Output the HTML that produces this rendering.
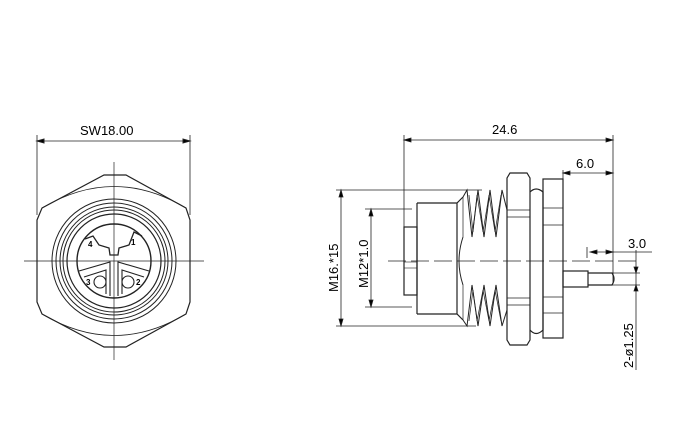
<!DOCTYPE html>
<html><head><style>body{margin:0;background:#fff}svg{display:block}</style></head><body>
<svg width="680" height="440" viewBox="0 0 680 440" xmlns="http://www.w3.org/2000/svg" font-family="Liberation Sans, sans-serif" fill="none" stroke="#000" stroke-width="1">
<!-- LEFT VIEW -->
<g stroke="#222">
<line x1="37" y1="135" x2="37" y2="215" stroke-width="0.8"/>
<line x1="190" y1="135" x2="190" y2="215" stroke-width="0.8"/>
<line x1="37" y1="141" x2="190" y2="141" stroke-width="0.8"/>
<path d="M37 141 l7 -2 v4z M190 141 l-7 -2 v4z" fill="#000"/>
<path d="M104 175 L126 175 L186 208 L190 220 L190 302 L186 314 L126 347 L104 347 L42 314 L37 302 L37 220 L42 208 Z" stroke-width="1.2"/>
<path d="M42 208 Q114 165 186 208 M42 314 Q114 357 186 314" stroke-width="0.8"/>
<circle cx="114" cy="261" r="62" stroke-width="1"/>
<circle cx="114" cy="261" r="58" stroke-width="1"/>
<circle cx="114" cy="261" r="54" stroke-width="1"/>
<circle cx="114" cy="261" r="51" stroke-width="1"/>
<circle cx="114" cy="261" r="47" stroke-width="1.2"/>
<circle cx="114" cy="261" r="37" stroke-width="1.4"/>
<line x1="24" y1="261" x2="204" y2="261" stroke-width="0.7"/>
<line x1="114" y1="162" x2="114" y2="360" stroke-width="0.7"/>
<path d="M85 239 L93 236 L99 245 L109 248 L110 255 L118 255 L119 248 L129 245 L134 232 L142 236" stroke-width="1.3"/>
<path d="M79 271 L110 262 L110 296 M84 277 L106 270 L106 294 M149 271 L118 262 L118 296 M144 277 L122 270 L122 294" stroke-width="1.1"/>
<circle cx="100" cy="282" r="6" stroke-width="1.1"/>
<circle cx="128" cy="282" r="6" stroke-width="1.1"/>
</g>
<g fill="#000" stroke="none" font-size="8" font-weight="bold">
<text x="88" y="247">4</text><text x="131" y="245">1</text>
<text x="86" y="285">3</text><text x="136" y="285">2</text>
</g>
<text x="80" y="135" font-size="13" fill="#000" stroke="none">SW18.00</text>

<!-- RIGHT VIEW -->
<g stroke="#222" stroke-width="0.8">
<line x1="404" y1="135" x2="404" y2="227"/>
<line x1="613" y1="135" x2="613" y2="283"/>
<line x1="404" y1="140" x2="613" y2="140"/>
<path d="M404 140 l7 -2 v4z M613 140 l-7 -2 v4z" fill="#000"/>
<line x1="563" y1="170" x2="563" y2="180"/>
<line x1="563" y1="173" x2="613" y2="173"/>
<path d="M563 173 l7 -2 v4z M613 173 l-7 -2 v4z" fill="#000"/>
<line x1="336" y1="190" x2="482" y2="190"/>
<line x1="336" y1="326" x2="476" y2="326"/>
<line x1="341" y1="190" x2="341" y2="326"/>
<path d="M341 190 l-2 7 h4z M341 326 l-2 -7 h4z" fill="#000"/>
<line x1="365" y1="209" x2="412" y2="209"/>
<line x1="365" y1="307" x2="412" y2="307"/>
<line x1="371" y1="209" x2="371" y2="307"/>
<path d="M371 209 l-2 7 h4z M371 307 l-2 -7 h4z" fill="#000"/>
<line x1="587" y1="247" x2="587" y2="258"/>
<line x1="590" y1="252" x2="652" y2="252"/>
<path d="M590 252 l7 -2 v4z M613 252 l-7 -2 v4z" fill="#000"/>
<line x1="636" y1="250" x2="636" y2="370"/>
<line x1="600" y1="273" x2="640" y2="273"/>
<line x1="600" y1="285" x2="640" y2="285"/>
<path d="M636 273 l-2 -6 h4z M636 285 l-2 6 h4z" fill="#000"/>
<line x1="388" y1="261" x2="640" y2="261" stroke-dasharray="18,5"/>
</g>
<g stroke="#222" stroke-width="1.2">
<rect x="404" y="227" width="13" height="68"/>
<line x1="404" y1="262" x2="417" y2="262" stroke-width="0.6"/>
<line x1="404" y1="268" x2="417" y2="268" stroke-width="0.6"/>
<path d="M417 203 L457 203 L463 197 M457 203 L457 314 M417 314 L457 314 L463 320"/>
<line x1="417" y1="203" x2="417" y2="314"/>
<path d="M463 237 Q455 261 463 285" stroke-width="1"/>
<path d="M463 197 L467 190 L472 237 L478 190 L484 237 L490 190 L496 237 L502 190 L507 210" stroke-width="1"/>
<path d="M463 197 L463 237 M469 195 L473 232 L477 195 L483 232 L489 195 L495 232 L501 195" stroke-width="0.7"/>
<path d="M463 320 L467 326 L472 285 L478 326 L484 285 L490 326 L496 285 L502 326 L507 310" stroke-width="1"/>
<path d="M463 320 L463 285 M469 321 L473 290 L477 321 L483 290 L489 321 L495 290 L501 321" stroke-width="0.7"/>
<path d="M510 173 L527 173 L530 178 L530 340 L527 345 L510 345 L507 340 L507 178 Z"/>
<line x1="507" y1="210" x2="530" y2="210" stroke-width="0.8"/>
<line x1="507" y1="217" x2="530" y2="217" stroke-width="0.8"/>
<line x1="507" y1="298" x2="530" y2="298" stroke-width="0.8"/>
<line x1="507" y1="305" x2="530" y2="305" stroke-width="0.8"/>
<path d="M530 192 Q536 186 543 192 L543 330 Q536 337 530 330"/>
<rect x="543" y="179" width="20" height="159"/>
<line x1="543" y1="208" x2="563" y2="208" stroke-width="0.8"/>
<line x1="543" y1="225" x2="563" y2="225" stroke-width="0.8"/>
<line x1="543" y1="297" x2="563" y2="297" stroke-width="0.8"/>
<line x1="543" y1="313" x2="563" y2="313" stroke-width="0.8"/>
<rect x="563" y="271" width="25" height="16"/>
<path d="M588 273 L612 273 Q616 279 612 285 L588 285"/>
</g>
<g fill="#000" stroke="none" font-size="13">
<text x="492" y="134">24.6</text>
<text x="576" y="168">6.0</text>
<text x="628" y="248">3.0</text>
<text transform="translate(338,292) rotate(-90)">M16.*15</text>
<text transform="translate(368,288) rotate(-90)">M12*1.0</text>
<text transform="translate(633,368) rotate(-90)">2-ø1.25</text>
</g>
</svg>
</body></html>
